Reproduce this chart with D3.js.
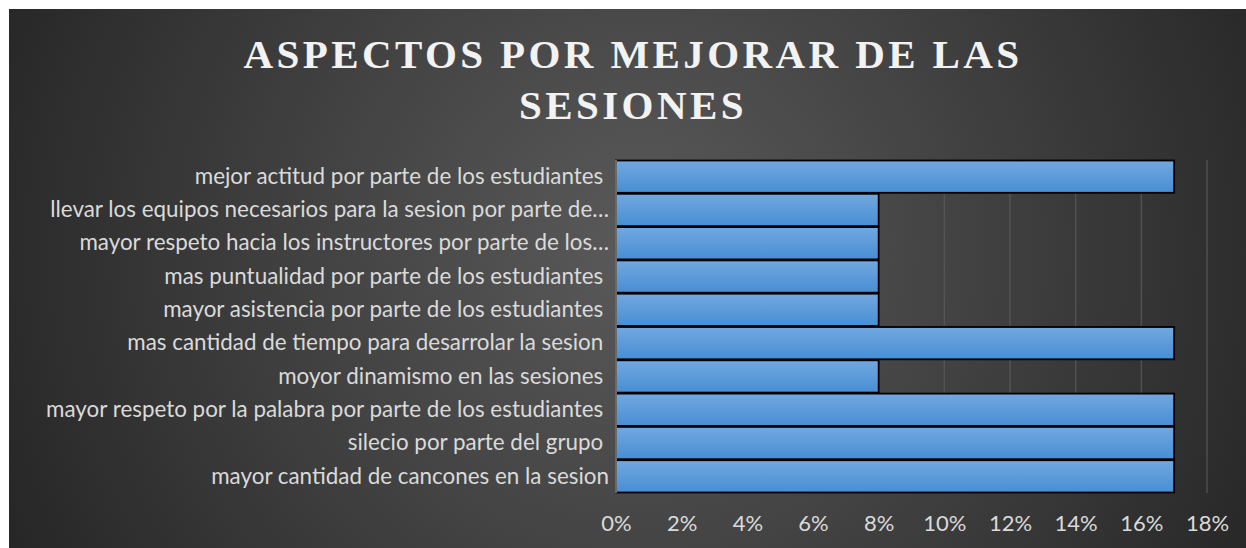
<!DOCTYPE html>
<html><head><meta charset="utf-8">
<script src="https://cdn.jsdelivr.net/npm/d3@7"></script>
<style>
html,body{margin:0;padding:0;background:#fff;}
svg{display:block;}
</style></head>
<body>
<svg id="c" width="1246" height="548"></svg>
<script>
const categories = [
  "mejor actitud por parte de los estudiantes ",
  "llevar los equipos necesarios para la sesion por parte de…",
  "mayor respeto hacia los instructores por parte de los…",
  "mas puntualidad por parte de los estudiantes ",
  "mayor asistencia por parte de los estudiantes ",
  "mas cantidad de tiempo para desarrolar la sesion ",
  "moyor dinamismo en las sesiones ",
  "mayor respeto por la palabra por parte de los estudiantes ",
  "silecio por parte del grupo ",
  "mayor cantidad de cancones en la sesion"
];
const values = [0.17, 0.08, 0.08, 0.08, 0.08, 0.17, 0.08, 0.17, 0.17, 0.17];
const xTicks = [0, 0.02, 0.04, 0.06, 0.08, 0.10, 0.12, 0.14, 0.16, 0.18];
const titleLines = ["ASPECTOS POR MEJORAR DE LAS", "SESIONES"];

const svg = d3.select("#c");
const defs = svg.append("defs");
const rg = defs.append("radialGradient").attr("id","bg")
  .attr("gradientUnits","userSpaceOnUse").attr("cx",640).attr("cy",250).attr("r",700);
rg.append("stop").attr("offset","0").attr("stop-color","#5a5a5a");
rg.append("stop").attr("offset","0.45").attr("stop-color","#434343");
rg.append("stop").attr("offset","1").attr("stop-color","#262626");
const bg = defs.append("linearGradient").attr("id","bar").attr("x1",0).attr("y1",0).attr("x2",0).attr("y2",1);
bg.append("stop").attr("offset","0").attr("stop-color","#72a8df");
bg.append("stop").attr("offset","1").attr("stop-color","#478ed4");

svg.append("rect").attr("x",9).attr("y",9).attr("width",1237).attr("height",539).attr("fill","url(#bg)");

const margin = {left:616, right:1207, top:160, bottom:493};
const x = d3.scaleLinear().domain([0,0.18]).range([margin.left, margin.right]);
const y = d3.scaleBand().domain(categories).range([margin.top, margin.bottom]).padding(0);

// gridlines
svg.append("g").selectAll("line").data(xTicks.slice(1)).join("line")
  .attr("x1",d=>x(d)).attr("x2",d=>x(d)).attr("y1",margin.top).attr("y2",margin.bottom)
  .attr("stroke","#5c5c5c").attr("stroke-width",1.5).attr("opacity",0.7);

// bars
svg.append("g").selectAll("rect").data(categories).join("rect")
  .attr("x",x(0)).attr("y",d=>y(d)+0.5)
  .attr("width",(d,i)=>x(values[i])-x(0)).attr("height",y.bandwidth()-1)
  .attr("fill","url(#bar)").attr("stroke","#000").attr("stroke-width",1.8);

// axis line
svg.append("line").attr("x1",x(0)).attr("x2",x(0)).attr("y1",margin.top).attr("y2",margin.bottom)
  .attr("stroke","#8a8a8a").attr("stroke-width",1.5);

// y labels
const yAxis = d3.axisLeft(y).tickSize(0).tickPadding(7);
const yg = svg.append("g").attr("transform",`translate(${x(0)},0)`).call(yAxis);
yg.select(".domain").remove();
yg.selectAll("text").attr("fill","#dadada").style("font-family","Lato, 'Noto Sans', sans-serif")
  .style("font-size","22.4px").style("white-space","pre");

// x labels
const xAxis = d3.axisBottom(x).tickValues(xTicks).tickFormat(d3.format(".0%")).tickSize(0).tickPadding(0);
const xg = svg.append("g").attr("transform",`translate(0,515)`).call(xAxis);
xg.select(".domain").remove();
xg.selectAll("text").attr("fill","#dadada").style("font-family","Lato, 'Noto Sans', sans-serif")
  .style("font-size","22px");

// title
svg.append("g").selectAll("text").data(titleLines).join("text")
  .attr("x",633).attr("y",(d,i)=>68+i*51).attr("text-anchor","middle")
  .attr("fill","#f2f2f2").style("font-family","'Liberation Serif','Times New Roman',serif")
  .style("font-weight","bold").style("font-size","41px").style("letter-spacing","3.4px")
  .text(d=>d);
</script>
</body></html>
